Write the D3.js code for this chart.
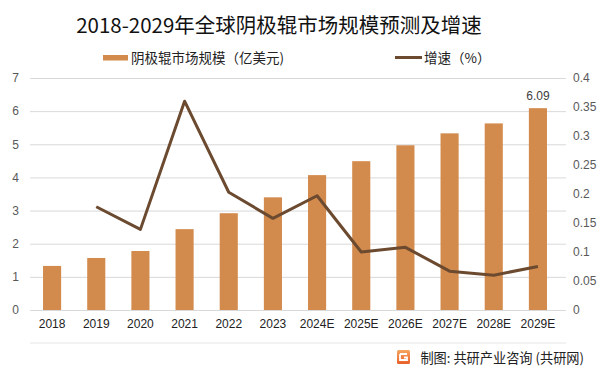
<!DOCTYPE html>
<html><head><meta charset="utf-8">
<script src="https://cdn.jsdelivr.net/npm/d3@7"></script>
<style>body{margin:0;background:#fff}svg{display:block;font-family:"Noto Sans CJK SC","Noto Sans",sans-serif}</style>
</head><body><svg id="c" width="600" height="373"></svg>
<script>
const categories=["2018","2019","2020","2021","2022","2023","2024E","2025E","2026E","2027E","2028E","2029E"];
const marketSize=[1.33,1.57,1.78,2.44,2.92,3.40,4.07,4.49,4.97,5.33,5.63,6.09];
const growth=[null,0.178,0.139,0.36,0.203,0.158,0.197,0.10,0.108,0.067,0.060,0.075];
const leftTicks=[0,1,2,3,4,5,6,7];
const rightTicks=[0,0.05,0.1,0.15,0.2,0.25,0.3,0.35,0.4];
const title="2018-2029年全球阴极辊市场规模预测及增速";
const barName="阴极辊市场规模（亿美元)";
const lineName="增速（%）";
const source="制图: 共研产业咨询 (共研网)";

const svg=d3.select("#c");
const L=30,R=560,T=78,B=310;
const x=d3.scaleBand().domain(categories).range([L,R]).paddingInner(0.59).paddingOuter(0.295);
const y=d3.scaleLinear().domain([0,7]).range([B,T]);
const y2=d3.scaleLinear().domain([0,0.4]).range([B,T]);
const barC="#D38B4D", lineC="#6B4A30", txt="#595959";

svg.append("text").attr("x",279).attr("y",33).attr("text-anchor","middle").attr("font-size",20.5).attr("fill","#111").text(title);

// legend
svg.append("rect").attr("x",103).attr("y",55).attr("width",25).attr("height",5.5).attr("fill",barC);
svg.append("text").attr("x",131).attr("y",63).attr("font-size",13.5).attr("fill","#222").text(barName);
svg.append("line").attr("x1",395).attr("x2",422).attr("y1",57.5).attr("y2",57.5).attr("stroke",lineC).attr("stroke-width",3);
svg.append("text").attr("x",424).attr("y",63).attr("font-size",13.5).attr("fill","#222").text(lineName);

// grid
const g=svg.append("g").attr("transform",`translate(${L},0)`)
 .call(d3.axisLeft(y).tickValues(leftTicks).tickSize(-(566-L)).tickFormat(d3.format("d")));
g.select(".domain").remove();
g.selectAll("line").attr("stroke","#d9d9d9");
g.selectAll("text").attr("x",-11).attr("font-size",12).attr("fill",txt).attr("font-family","Liberation Sans, Arial, sans-serif");

const g2=svg.append("g").attr("transform",`translate(${R},0)`)
 .call(d3.axisRight(y2).tickValues(rightTicks).tickSize(0).tickFormat(d=>d===0?"0":String(+d.toFixed(2))));
g2.select(".domain").remove();
g2.selectAll("text").attr("x",13).attr("font-size",12).attr("fill",txt).attr("font-family","Liberation Sans, Arial, sans-serif");

// bars
svg.selectAll("rect.bar").data(marketSize).enter().append("rect").attr("class","bar")
 .attr("x",(d,i)=>x(categories[i])).attr("width",x.bandwidth())
 .attr("y",d=>y(d)).attr("height",d=>B-y(d)).attr("fill",barC);

// last label
const li=marketSize.length-1;
svg.append("text").attr("x",x(categories[li])+x.bandwidth()/2).attr("y",y(marketSize[li])-8)
 .attr("text-anchor","middle").attr("font-size",12).attr("fill","#404040").attr("font-family","Liberation Sans, Arial, sans-serif").text(marketSize[li].toFixed(2));

// x axis
const gx=svg.append("g").attr("transform",`translate(0,${B})`).call(d3.axisBottom(x).tickSize(0));
gx.select(".domain").remove();
svg.append("line").attr("x1",L).attr("x2",566).attr("y1",B+0.5).attr("y2",B+0.5).attr("stroke","#d9d9d9");
gx.selectAll("text").attr("dy",15).attr("font-size",12).attr("fill","#222").attr("font-family","Liberation Sans, Arial, sans-serif");

// line
const pts=growth.map((v,i)=>[categories[i],v]).filter(d=>d[1]!=null);
svg.append("path").datum(pts).attr("fill","none").attr("stroke",lineC).attr("stroke-width",3).attr("stroke-linejoin","round")
 .attr("d",d3.line().x(d=>x(d[0])+x.bandwidth()/2).y(d=>y2(d[1])));

// footer
svg.append("line").attr("x1",30).attr("x2",566).attr("y1",343).attr("y2",343).attr("stroke","#e6e6e6");
const defs=svg.append("defs");
const gr=defs.append("linearGradient").attr("id","ig").attr("x1",0).attr("y1",0).attr("x2",0).attr("y2",1);
gr.append("stop").attr("offset",0).attr("stop-color","#F7A660");
gr.append("stop").attr("offset",1).attr("stop-color","#E8602A");
const ic=svg.append("g").attr("transform","translate(397,350)");
ic.append("rect").attr("width",13).attr("height",14).attr("rx",1.5).attr("fill","url(#ig)");
ic.append("path").attr("d","M3,4 H10 M3,4 V10 H10 V7.5 H7").attr("fill","none").attr("stroke","#fff").attr("stroke-width",1.8);
svg.append("text").attr("x",584).attr("y",362.5).attr("text-anchor","end").attr("font-size",13.2).attr("fill","#222").text(source);
</script></body></html>
